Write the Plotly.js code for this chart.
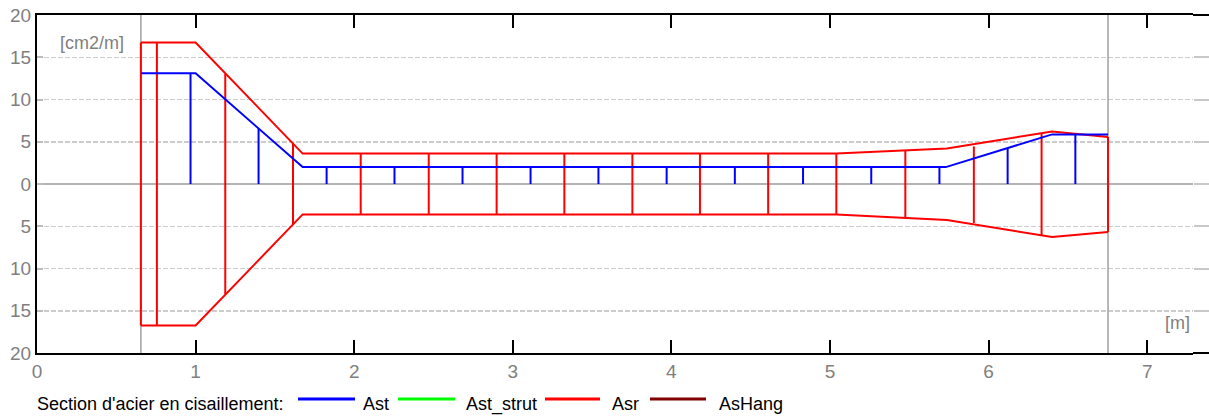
<!DOCTYPE html>
<html>
<head>
<meta charset="utf-8">
<script src="https://cdn.plot.ly/plotly-3.0.1.min.js"></script>
<style>
  html, body { margin: 0; padding: 0; background: #ffffff; }
  #chart { width: 1209px; height: 416px; }
</style>
</head>
<body>
<div id="chart"></div>
<script>
// Shear reinforcement envelope along the beam [cm2/m] vs abscissa [m]

// Beam ends (support faces)
const supportX = [0.655, 6.753];

// Ast envelope
const astX = [0.655, 1.0, 1.675, 5.73, 6.40, 6.753];
const astY = [13.1, 13.1, 2.0, 2.0, 5.87, 5.87];

// Ast stirrup positions and values
const astStemX = [0.968, 1.397, 1.826, 2.254, 2.683, 3.112, 3.54, 3.97, 4.40, 4.83, 5.26, 5.69, 6.12, 6.547];
const astStemY = [13.1, 6.6, 2.0, 2.0, 2.0, 2.0, 2.0, 2.0, 2.0, 2.0, 2.0, 2.0, 4.2, 5.87];

// Asr envelope (upper and lower branches)
const asrX = [0.655, 1.0, 1.675, 5.04, 5.737, 6.40, 6.753];
const asrTop = [16.75, 16.75, 3.6, 3.6, 4.21, 6.22, 5.56];
const asrBot = [-16.75, -16.75, -3.6, -3.6, -4.26, -6.27, -5.68];

// Asr stirrup positions and values
const asrStemX = [0.655, 0.756, 1.187, 1.614, 2.041, 2.47, 2.898, 3.325, 3.754, 4.18, 4.61, 5.04, 5.475, 5.907, 6.334, 6.753];
const asrStemTop = [16.75, 16.75, 13.05, 4.85, 3.6, 3.6, 3.6, 3.6, 3.6, 3.6, 3.6, 3.6, 3.94, 4.45, 6.03, 5.56];
const asrStemBot = [-16.75, -16.75, -13.05, -4.85, -3.6, -3.6, -3.6, -3.6, -3.6, -3.6, -3.6, -3.6, -4.02, -4.62, -6.12, -5.68];

// Axis ticks
const xTicks = [0, 1, 2, 3, 4, 5, 6, 7];
const yTicks = [-20, -15, -10, -5, 0, 5, 10, 15, 20];
const yTickText = ['20', '15', '10', '5', '0', '5', '10', '15', '20'];

// Legend entries
const legendTitle = "Section d'acier en cisaillement:";
const seriesNames = ['Ast', 'Ast_strut', 'Asr', 'AsHang'];
const seriesColors = ['#0000ff', '#00ff00', '#ff0000', '#800000'];

const FONT = '"Liberation Sans", Arial, sans-serif';
const TICKGRAY = '#7f7f7f';

// Build vertical segments separated by gaps
function stems(xs, y0s, y1s) {
  const x = [], y = [];
  xs.forEach((v, i) => {
    x.push(v, v, null);
    y.push(y0s[i], y1s[i], null);
  });
  return { x, y };
}

const sup = stems(supportX, supportX.map(() => -20), supportX.map(() => 20));
const astS = stems(astStemX, astStemX.map(() => 0), astStemY);
const asrS = stems(asrStemX, asrStemBot, asrStemTop);

const traces = [
  { x: sup.x, y: sup.y, mode: 'lines', line: { color: '#a0a0a0', width: 1.5 }, hoverinfo: 'skip', showlegend: false },
  { x: asrS.x, y: asrS.y, mode: 'lines', line: { color: seriesColors[2], width: 2 }, showlegend: false },
  { x: asrX, y: asrTop, mode: 'lines', line: { color: seriesColors[2], width: 2 }, showlegend: false },
  { x: asrX, y: asrBot, mode: 'lines', line: { color: seriesColors[2], width: 2 }, showlegend: false },
  { x: astS.x, y: astS.y, mode: 'lines', line: { color: seriesColors[0], width: 2 }, showlegend: false },
  { x: astX, y: astY, mode: 'lines', line: { color: seriesColors[0], width: 2 }, showlegend: false },
  // right-hand gray ticks
  { x: [null], y: [null], yaxis: 'y2', mode: 'lines', showlegend: false, hoverinfo: 'skip' }
];

// Plot area in pixels
const W = 1209, H = 416;
const M = { l: 37, r: 16, t: 15, b: 63 };
const PW = W - M.l - M.r, PH = H - M.t - M.b;
const px = v => (v - M.l) / PW;
const py = v => (H - M.b - v) / PH;

const annotations = [
  { text: '[cm2/m]', x: 0.13, y: 16.7, xref: 'x', yref: 'y', xanchor: 'left', yanchor: 'middle', showarrow: false,
    font: { family: FONT, size: 18, color: TICKGRAY } },
  { text: '[m]', x: 7.28, y: -16.4, xref: 'x', yref: 'y', xanchor: 'right', yanchor: 'middle', showarrow: false,
    font: { family: FONT, size: 18, color: TICKGRAY } },
  { text: legendTitle, x: px(35), y: py(404), xref: 'paper', yref: 'paper', xanchor: 'left', yanchor: 'middle', showarrow: false,
    font: { family: FONT, size: 18, color: '#000000' } }
];

const shapes = [
  // top and bottom frame lines reach the right edge
  { type: 'line', xref: 'paper', yref: 'paper', x0: 1, x1: px(W), y0: 1, y1: 1, line: { color: '#000000', width: 2 } },
  { type: 'line', xref: 'paper', yref: 'paper', x0: 1, x1: px(W), y0: 0, y1: 0, line: { color: '#000000', width: 2 } }
];

const legendLines = [[298, 355], [398, 455], [545, 600], [650, 706]];
const legendText = [361, 464, 610, 717];
seriesNames.forEach((name, i) => {
  shapes.push({ type: 'line', xref: 'paper', yref: 'paper', x0: px(legendLines[i][0]), x1: px(legendLines[i][1]),
    y0: py(399), y1: py(399), line: { color: seriesColors[i], width: 3 } });
  annotations.push({ text: name, x: px(legendText[i]), y: py(404), xref: 'paper', yref: 'paper',
    xanchor: 'left', yanchor: 'middle', showarrow: false, font: { family: FONT, size: 18, color: '#000000' } });
});

const layout = {
  width: W, height: H,
  margin: M,
  paper_bgcolor: '#ffffff', plot_bgcolor: '#ffffff',
  showlegend: false,
  font: { family: FONT },
  xaxis: {
    range: [0, (PW) / 158.6],
    tickvals: xTicks,
    ticks: 'inside', ticklen: 13, tickwidth: 2, tickcolor: '#000000',
    showline: true, linecolor: '#000000', linewidth: 2, mirror: 'ticks',
    showgrid: false, zeroline: false,
    tickfont: { family: FONT, size: 19, color: TICKGRAY }
  },
  yaxis: {
    range: [-20, 20],
    tickvals: yTicks, ticktext: yTickText,
    ticks: 'inside', ticklen: 6, tickwidth: 2, tickcolor: '#bdbdbd',
    showline: true, linecolor: '#000000', linewidth: 2,
    showgrid: true, gridcolor: '#cccccc', gridwidth: 1.5, griddash: '5px,2px',
    zeroline: true, zerolinecolor: '#b4b4b4', zerolinewidth: 2,
    tickfont: { family: FONT, size: 19, color: TICKGRAY }
  },
  yaxis2: {
    overlaying: 'y', side: 'right', range: [-20, 20],
    tickvals: yTicks, showticklabels: false,
    ticks: 'outside', ticklen: 16, tickwidth: 2, tickcolor: '#c8c8c8',
    showline: false, showgrid: false, zeroline: false
  },
  annotations, shapes
};

Plotly.newPlot('chart', traces, layout, { displayModeBar: false, staticPlot: true });
</script>
</body>
</html>
